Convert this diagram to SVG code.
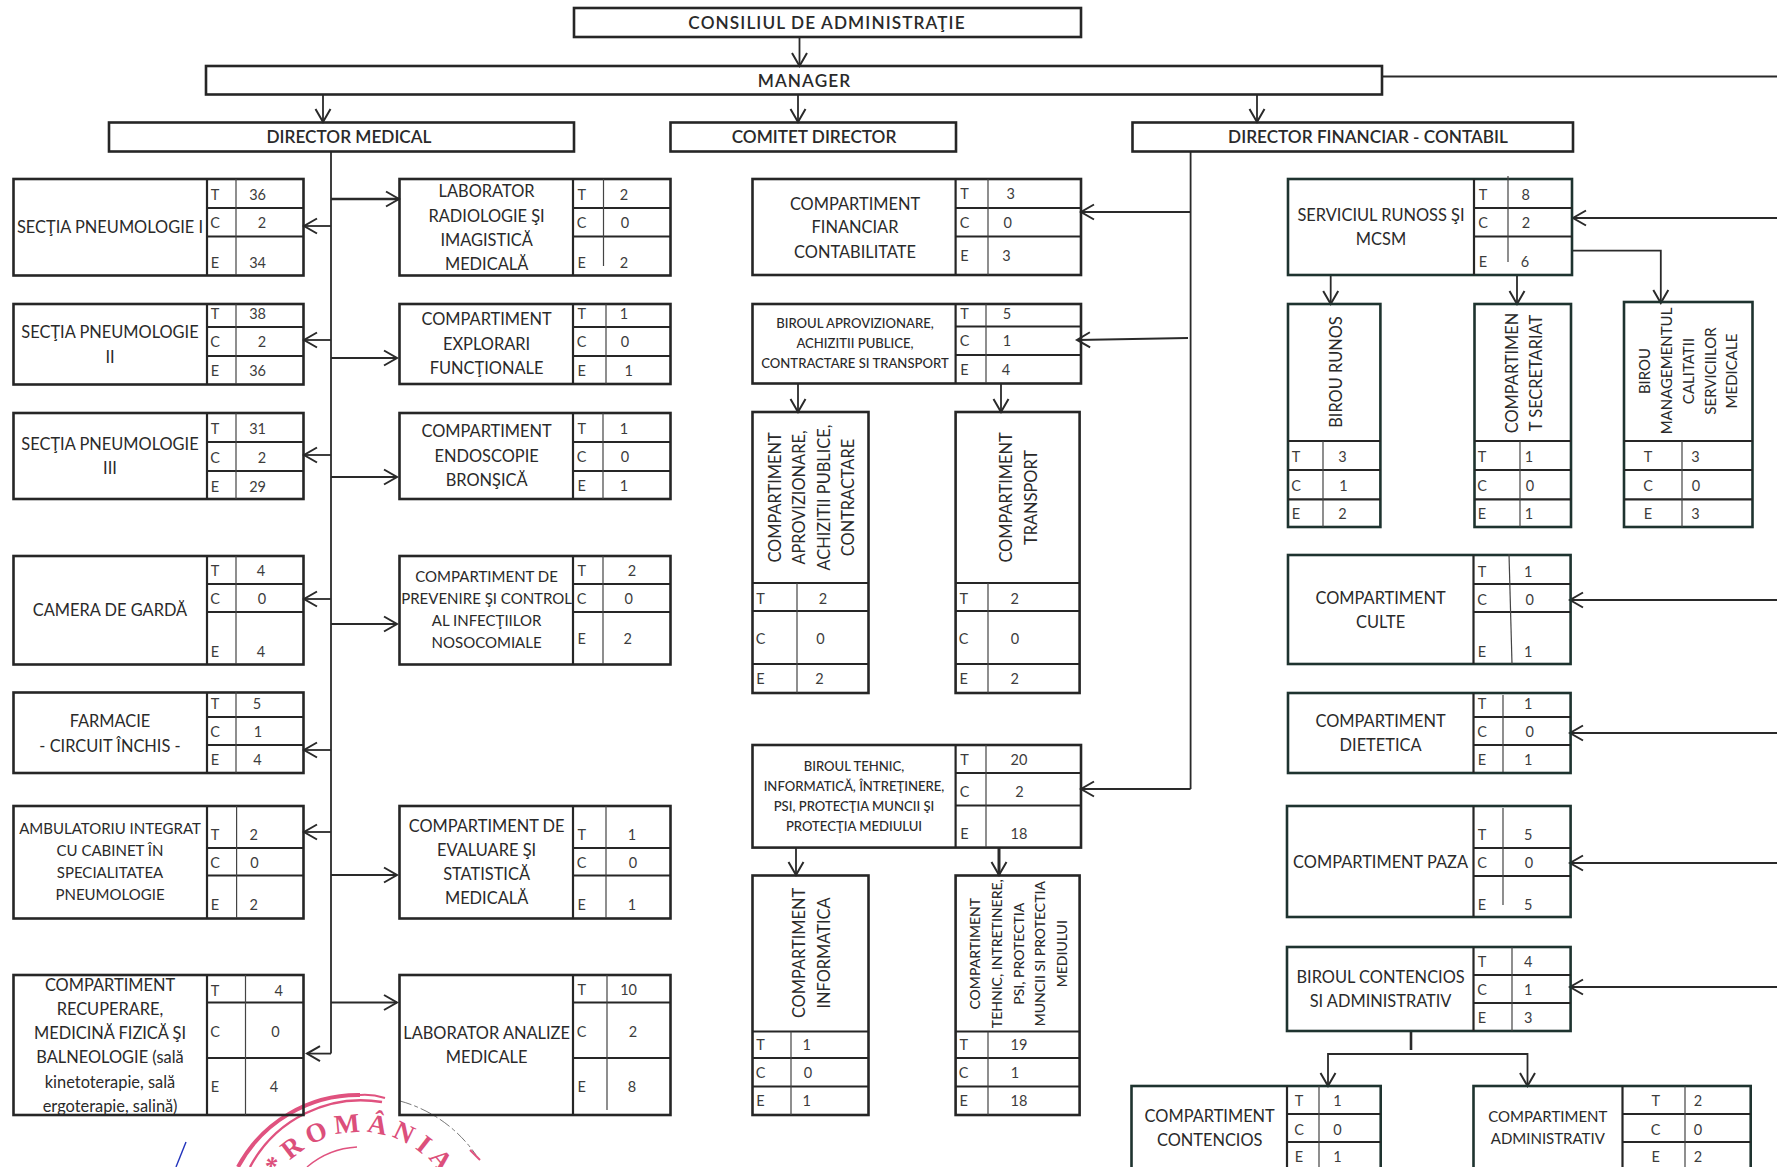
<svg xmlns="http://www.w3.org/2000/svg" width="1777" height="1167" viewBox="0 0 1777 1167">
<style>
text{font-family:"Lato","Open Sans","Liberation Sans",sans-serif;text-anchor:middle;dominant-baseline:central;fill:#2a2a2a}
.l{font-size:16.4px}
.h{font-size:17.2px;font-weight:600}
.hh{font-size:17.2px;font-weight:600;letter-spacing:1.1px}
.m{font-size:15px}
.n{font-size:13.1px;font-weight:500}
.w{font-size:14px;font-weight:500}
.c{font-size:14.5px;fill:#3c3c3c}
.b{fill:none;stroke:#262626;stroke-width:2.6}
.g{stroke:#1e332f}
.r{fill:none;stroke:#262626;stroke-width:2.2}
.s{fill:none;stroke:#444;stroke-width:1.2}
.k{fill:none;stroke:#2a2a2a;stroke-width:1.8;marker-end:url(#a)}
.p{fill:none;stroke:#2a2a2a;stroke-width:1.8}
.st{fill:none;stroke:#e0527f}
</style>
<defs>
<marker id="a" markerUnits="userSpaceOnUse" markerWidth="18" markerHeight="20" refX="15" refY="9" orient="auto"><path d="M2,1.5L15,9L2,16.5" fill="none" stroke="#2a2a2a" stroke-width="2"/></marker>
<path id="stampArc" d="M261,1231A99,99 0 0 1 459,1231" fill="none"/>
</defs>
<rect width="1777" height="1167" fill="#fff"/>
<g id="stamp">
<path class="st" stroke-width="4" d="M238,1167A136,136 0 0 1 360,1095"/>
<path class="st" stroke-width="2" d="M360,1095Q372,1094 385,1098"/>
<path class="st" stroke-width="2.4" d="M250,1167A126,126 0 0 1 382,1102"/>
<path d="M400,1101A136,136 0 0 1 476,1155" fill="none" stroke="#777" stroke-width="1" stroke-dasharray="12 3 4 3"/>
<path class="st" stroke-width="2" d="M470,1150L480,1160"/>
<path class="st" stroke-width="1.4" d="M307,1167A84,84 0 0 1 357,1147"/>
<text style="font-family:'Liberation Serif',serif;font-weight:700;font-size:27px;letter-spacing:6px;fill:#dc4f7b;text-anchor:start;dominant-baseline:auto"><textPath href="#stampArc" startOffset="58">*ROMÂNIA</textPath></text>
<path d="M186,1142L176,1167" fill="none" stroke="#2233bb" stroke-width="1.4"/>
</g>
<g id="connectors">
<path class="k" d="M799.500,37V66"/>
<path class="k" d="M323,94V122"/>
<path class="k" d="M798,94V122"/>
<path class="k" d="M1257,94V122"/>
<path class="p" d="M1382,76.500H1777"/>
<path class="p" d="M331,151V1053.600"/>
<path class="k" d="M331,226H304"/>
<path class="k" d="M331,340H304"/>
<path class="k" d="M331,455H304"/>
<path class="k" d="M331,599H304"/>
<path class="k" d="M331,750H304"/>
<path class="k" d="M331,832H304"/>
<path class="k" d="M331,1053.600H307"/>
<path class="k" d="M331,199H399" style="stroke-width:2.4"/>
<path class="k" d="M331,358H397"/>
<path class="k" d="M331,477H397"/>
<path class="k" d="M331,624H397"/>
<path class="k" d="M331,875H397"/>
<path class="k" d="M331,1002.500H397"/>
<path class="p" d="M1190.600,151V789"/>
<path class="k" d="M1190.600,212H1081"/>
<path class="k" d="M1188,338L1077,340"/>
<path class="k" d="M1190.600,789H1081"/>
<path class="k" d="M798,384V412"/>
<path class="k" d="M1001,384V412"/>
<path class="k" d="M796,848V875"/>
<path class="k" d="M999,848V875" style="stroke-width:3"/>
<path class="k" d="M1777,218H1573"/>
<path class="k" d="M1572,250.600H1660.800V303"/>
<path class="k" d="M1330.700,275V304"/>
<path class="k" d="M1517,275V304"/>
<path class="k" d="M1777,600H1570"/>
<path class="k" d="M1777,733H1570"/>
<path class="k" d="M1777,863H1570"/>
<path class="k" d="M1777,987H1570"/>
<path d="M1411,1032V1050" fill="none" stroke="#2a2a2a" stroke-width="2.6"/>
<path class="k" d="M1411,1054H1328V1086"/>
<path class="k" d="M1411,1054H1527.500V1086"/>
</g>
<g id="consiliu"><rect class="b" x="574" y="8" width="507" height="29"/><text class="hh" x="827" y="22">CONSILIUL DE ADMINISTRAŢIE</text></g>
<g id="manager"><rect class="b" x="206" y="66" width="1176" height="28.500"/><text class="hh" x="804.500" y="80.500">MANAGER</text></g>
<g id="dir-med"><rect class="b" x="109" y="122.500" width="465" height="29"/><text class="h" x="349" y="136.600">DIRECTOR MEDICAL</text></g>
<g id="comitet"><rect class="b" x="670.500" y="122.500" width="285.500" height="29"/><text class="h" x="814" y="136.600">COMITET DIRECTOR</text></g>
<g id="dir-fin"><rect class="b" x="1132.500" y="122.500" width="440.500" height="29"/><text class="h" x="1368" y="136.600">DIRECTOR FINANCIAR - CONTABIL</text></g>

<g id="pneumo1"><rect class="b" x="13.500" y="179" width="290" height="96.500"/><path class="r" d="M207,179V275.500M207,208H303M207,236.500H303"/><path class="s" d="M236,179V275"/>
<text class="l" x="110" y="226.600">SECŢIA PNEUMOLOGIE I</text><text class="c" x="215" y="194">T</text><text class="c" x="215" y="222.700">C</text><text class="c" x="215" y="262">E</text><text class="c" x="257.600" y="194">36</text><text class="c" x="262" y="222.700">2</text><text class="c" x="257.600" y="262">34</text></g>
<g id="pneumo2"><rect class="b" x="13.500" y="304" width="290" height="80.500"/><path class="r" d="M207,304V384.500M207,327H303M207,356H303"/><path class="s" d="M236,304V384"/>
<text class="l" x="110" y="331.400">SECŢIA PNEUMOLOGIE</text><text class="l" x="110" y="356">II</text><text class="c" x="215" y="313">T</text><text class="c" x="215" y="341">C</text><text class="c" x="215" y="370.500">E</text><text class="c" x="257.600" y="313">38</text><text class="c" x="262" y="341">2</text><text class="c" x="257.600" y="370.500">36</text></g>
<g id="pneumo3"><rect class="b" x="13.500" y="413" width="290" height="86"/><path class="r" d="M207,413V499M207,442H303M207,471H303"/><path class="s" d="M236,413V499"/>
<text class="l" x="110" y="443">SECŢIA PNEUMOLOGIE</text><text class="l" x="110" y="467.700">III</text><text class="c" x="215" y="428.600">T</text><text class="c" x="215" y="457">C</text><text class="c" x="215" y="486">E</text><text class="c" x="257.600" y="428.600">31</text><text class="c" x="262" y="457">2</text><text class="c" x="257.600" y="486">29</text></g>
<g id="garda"><rect class="b" x="13.500" y="556" width="290" height="108.500"/><path class="r" d="M207,556V664.500M207,584H303M207,612H303"/><path class="s" d="M236,556V664"/>
<text class="l" x="110" y="609.500">CAMERA DE GARDĂ</text><text class="c" x="215" y="570">T</text><text class="c" x="215" y="598">C</text><text class="c" x="215" y="651">E</text><text class="c" x="261" y="570">4</text><text class="c" x="262" y="598">0</text><text class="c" x="261" y="651">4</text></g>
<g id="farmacie"><rect class="b" x="13.500" y="692.500" width="290" height="80.500"/><path class="r" d="M207,692.500V773M207,717H303M207,745H303"/><path class="s" d="M236,692V773"/>
<text class="l" x="110" y="720.700">FARMACIE</text><text class="l" x="110" y="745">- CIRCUIT ÎNCHIS -</text><text class="c" x="215" y="703.600">T</text><text class="c" x="215" y="731.500">C</text><text class="c" x="215" y="759.800">E</text><text class="c" x="257" y="703.600">5</text><text class="c" x="258" y="731.500">1</text><text class="c" x="257.500" y="759.800">4</text></g>
<g id="ambulatoriu"><rect class="b" x="13.500" y="806" width="290" height="112.500"/><path class="r" d="M207,806V918.500M207,848H303M207,875.500H303"/><path class="s" d="M236.600,806V918"/>
<text class="m" x="110" y="828">AMBULATORIU INTEGRAT</text><text class="m" x="110" y="850">CU CABINET ÎN</text><text class="m" x="110" y="872">SPECIALITATEA</text><text class="m" x="110" y="894">PNEUMOLOGIE</text><text class="c" x="215" y="834">T</text><text class="c" x="215" y="862">C</text><text class="c" x="215" y="904">E</text><text class="c" x="253.600" y="834">2</text><text class="c" x="254.500" y="862">0</text><text class="c" x="253.600" y="904">2</text></g>
<g id="recuperare"><rect class="b" x="13.500" y="975" width="290" height="140"/><path class="r" d="M207,975V1115M207,1002.500H303M207,1058H303"/><path class="s" d="M245.500,975V1115"/>
<text class="l" x="110" y="984">COMPARTIMENT</text><text class="l" x="110" y="1008">RECUPERARE,</text><text class="l" x="110" y="1032">MEDICINĂ FIZICĂ ŞI</text><text class="l" x="110" y="1056">BALNEOLOGIE (sală</text><text class="l" x="110" y="1081">kinetoterapie, sală</text><text class="l" x="110" y="1105">ergoterapie, salină)</text><text class="c" x="215" y="990">T</text><text class="c" x="215" y="1031">C</text><text class="c" x="215" y="1086">E</text><text class="c" x="278.600" y="990">4</text><text class="c" x="275.400" y="1031">0</text><text class="c" x="274" y="1086">4</text></g>

<g id="radiologie"><rect class="b" x="399.500" y="179" width="271" height="96.500"/><path class="r" d="M573,179V275.500M573,208H670M573,236.500H670"/><path class="s" d="M603.500,179V266"/>
<text class="l" x="486.600" y="190">LABORATOR</text><text class="l" x="486.600" y="215">RADIOLOGIE ŞI</text><text class="l" x="486.600" y="239">IMAGISTICĂ</text><text class="l" x="486.600" y="263">MEDICALĂ</text><text class="c" x="581.700" y="194.400">T</text><text class="c" x="581.700" y="222.700">C</text><text class="c" x="581.700" y="262">E</text><text class="c" x="624" y="194.400">2</text><text class="c" x="625" y="222.700">0</text><text class="c" x="624" y="262">2</text></g>
<g id="explorari"><rect class="b" x="399.500" y="304" width="271" height="80"/><path class="r" d="M573,304V384M573,327H670M573,356H670"/><path class="s" d="M606,304V384"/>
<text class="l" x="486.600" y="318.400">COMPARTIMENT</text><text class="l" x="486.600" y="343">EXPLORARI</text><text class="l" x="486.600" y="367.400">FUNCŢIONALE</text><text class="c" x="581.700" y="313">T</text><text class="c" x="581.700" y="341">C</text><text class="c" x="581.700" y="370.400">E</text><text class="c" x="624" y="313">1</text><text class="c" x="625" y="341">0</text><text class="c" x="628.600" y="370.400">1</text></g>
<g id="endoscopie"><rect class="b" x="399.500" y="413" width="271" height="86"/><path class="r" d="M573,413V499M573,442H670M573,471H670"/><path class="s" d="M603,413V499"/>
<text class="l" x="486.600" y="430.500">COMPARTIMENT</text><text class="l" x="486.600" y="455">ENDOSCOPIE</text><text class="l" x="486.600" y="479">BRONŞICĂ</text><text class="c" x="581.700" y="428">T</text><text class="c" x="581.700" y="456">C</text><text class="c" x="581.700" y="485">E</text><text class="c" x="624" y="428">1</text><text class="c" x="625" y="456">0</text><text class="c" x="624" y="485">1</text></g>
<g id="prevenire"><rect class="b" x="399.500" y="556" width="271" height="108.500"/><path class="r" d="M573,556V664.500M573,584H670M573,612H670"/><path class="s" d="M603,556V664"/>
<text class="m" x="486.600" y="576">COMPARTIMENT DE</text><text class="m" x="486.600" y="598">PREVENIRE ŞI CONTROL</text><text class="m" x="486.600" y="620">AL INFECŢIILOR</text><text class="m" x="486.600" y="641.700">NOSOCOMIALE</text><text class="c" x="581.700" y="570">T</text><text class="c" x="581.700" y="598">C</text><text class="c" x="581.700" y="638.600">E</text><text class="c" x="632" y="570">2</text><text class="c" x="628.600" y="598">0</text><text class="c" x="627.700" y="638.600">2</text></g>
<g id="evaluare"><rect class="b" x="399.500" y="806" width="271" height="112.500"/><path class="r" d="M573,806V918.500M573,848H670M573,875.500H670"/><path class="s" d="M606,806V918"/>
<text class="l" x="486.600" y="825">COMPARTIMENT DE</text><text class="l" x="486.600" y="849">EVALUARE ŞI</text><text class="l" x="486.600" y="873">STATISTICĂ</text><text class="l" x="486.600" y="897.600">MEDICALĂ</text><text class="c" x="581.700" y="834">T</text><text class="c" x="581.700" y="862">C</text><text class="c" x="581.700" y="904">E</text><text class="c" x="632" y="834">1</text><text class="c" x="633" y="862">0</text><text class="c" x="632" y="904">1</text></g>
<g id="analize"><rect class="b" x="399.500" y="975" width="271" height="140"/><path class="r" d="M573,975V1115M573,1002.500H670M573,1058H670"/><path class="s" d="M607,975V1110"/>
<text class="l" x="486.600" y="1032">LABORATOR ANALIZE</text><text class="l" x="486.600" y="1056">MEDICALE</text><text class="c" x="581.700" y="989">T</text><text class="c" x="581.700" y="1031">C</text><text class="c" x="581.700" y="1086">E</text><text class="c" x="628.600" y="989">10</text><text class="c" x="633" y="1031">2</text><text class="c" x="632" y="1086">8</text></g>

<g id="financiar"><rect class="b" x="752.500" y="179" width="328.500" height="96"/><path class="r" d="M955.600,179V275M955.600,208H1081M955.600,236.500H1081"/><path class="s" d="M988,179V275"/>
<text class="l" x="855" y="203">COMPARTIMENT</text><text class="l" x="855" y="226.600">FINANCIAR</text><text class="l" x="855" y="251">CONTABILITATE</text><text class="c" x="964.500" y="193.600">T</text><text class="c" x="964.500" y="222">C</text><text class="c" x="964.500" y="255.600">E</text><text class="c" x="1010.800" y="193.600">3</text><text class="c" x="1007.700" y="222">0</text><text class="c" x="1006.500" y="255.600">3</text></g>
<g id="aprovizionare"><rect class="b" x="752.500" y="304" width="328.500" height="79.500"/><path class="r" d="M955.600,304V383.500M955.600,326.500H1081M955.600,355H1081"/><path class="s" d="M986,304V383"/>
<text class="n" x="855" y="323.400">BIROUL APROVIZIONARE,</text><text class="n" x="855" y="343">ACHIZITII PUBLICE,</text><text class="n" x="855" y="363">CONTRACTARE SI TRANSPORT</text><text class="c" x="964.500" y="313">T</text><text class="c" x="964.500" y="340.600">C</text><text class="c" x="964.500" y="369.300">E</text><text class="c" x="1007" y="313">5</text><text class="c" x="1007" y="340.600">1</text><text class="c" x="1006" y="369.300">4</text></g>
<g id="comp-aprov"><rect class="b" x="752.500" y="412" width="116" height="281"/><path class="r" d="M752.500,583H868.500M752.500,611H868.500M752.500,664H868.500"/><path class="s" d="M797,583V693"/>
<text class="l" transform="translate(774.600 497.500) rotate(-90)">COMPARTIMENT</text><text class="l" transform="translate(798.700 497.500) rotate(-90)">APROVIZIONARE,</text><text class="l" transform="translate(823 497.500) rotate(-90)">ACHIZITII PUBLICE,</text><text class="l" transform="translate(847 497.500) rotate(-90)">CONTRACTARE</text><text class="c" x="760.500" y="598.700">T</text><text class="c" x="760.500" y="638.600">C</text><text class="c" x="760.500" y="678.500">E</text><text class="c" x="823" y="598.700">2</text><text class="c" x="820.500" y="638.600">0</text><text class="c" x="819.400" y="678.500">2</text></g>
<g id="comp-transport"><rect class="b" x="955.600" y="412" width="124" height="281"/><path class="r" d="M955.600,583H1079.600M955.600,611H1079.600M955.600,664H1079.600"/><path class="s" d="M988,583V693"/>
<text class="l" transform="translate(1005.400 497.500) rotate(-90)">COMPARTIMENT</text><text class="l" transform="translate(1030 497.500) rotate(-90)">TRANSPORT</text><text class="c" x="963.700" y="598.700">T</text><text class="c" x="963.700" y="638.600">C</text><text class="c" x="963.700" y="678.500">E</text><text class="c" x="1014.600" y="598.700">2</text><text class="c" x="1015" y="638.600">0</text><text class="c" x="1014.600" y="678.500">2</text></g>
<g id="tehnic"><rect class="b" x="752.500" y="745" width="328.500" height="102.600"/><path class="r" d="M955.600,745V847.600M955.600,773H1081M955.600,805.500H1081"/><path class="s" d="M986,745V847"/>
<text class="n" x="854" y="765.600">BIROUL  TEHNIC,</text><text class="n" x="854" y="785.700">INFORMATICĂ, ÎNTREŢINERE,</text><text class="n" x="854" y="805.800">PSI, PROTECŢIA MUNCII ŞI</text><text class="n" x="854" y="826">PROTECŢIA MEDIULUI</text><text class="c" x="964.500" y="759">T</text><text class="c" x="964.500" y="791.500">C</text><text class="c" x="964.500" y="833">E</text><text class="c" x="1019" y="759">20</text><text class="c" x="1019.500" y="791.500">2</text><text class="c" x="1019" y="833">18</text></g>
<g id="informatica"><rect class="b" x="752.500" y="875.500" width="116" height="239.500"/><path class="r" d="M752.500,1031.500H868.500M752.500,1058H868.500M752.500,1086.500H868.500"/><path class="s" d="M791,1031.500V1115"/>
<text class="l" transform="translate(798.700 953) rotate(-90)">COMPARTIMENT</text><text class="l" transform="translate(823 953) rotate(-90)">INFORMATICA</text><text class="c" x="760.500" y="1044">T</text><text class="c" x="760.500" y="1072.600">C</text><text class="c" x="760.500" y="1100.800">E</text><text class="c" x="806.800" y="1044">1</text><text class="c" x="808" y="1072.600">0</text><text class="c" x="806.800" y="1100.800">1</text></g>
<g id="comp-tehnic"><rect class="b" x="955.600" y="875.500" width="124" height="239.500"/><path class="r" d="M955.600,1031.500H1079.600M955.600,1058H1079.600M955.600,1086.500H1079.600"/><path class="s" d="M988,1031.500V1115"/>
<text class="w" transform="translate(974.800 953.700) rotate(-90)">COMPARTIMENT</text><text class="w" transform="translate(996.600 953.700) rotate(-90)">TEHNIC, INTRETINERE,</text><text class="w" transform="translate(1018.400 953.700) rotate(-90)">PSI, PROTECTIA</text><text class="w" transform="translate(1039.800 953.700) rotate(-90)">MUNCII SI PROTECTIA</text><text class="w" transform="translate(1061 953.700) rotate(-90)">MEDIULUI</text><text class="c" x="963.700" y="1044">T</text><text class="c" x="963.700" y="1072.600">C</text><text class="c" x="963.700" y="1100.800">E</text><text class="c" x="1019" y="1044">19</text><text class="c" x="1015" y="1072.600">1</text><text class="c" x="1019" y="1100.800">18</text></g>

<g id="runoss"><rect class="b g" x="1288" y="179" width="284" height="96"/><path class="r g" d="M1474,179V275M1474,208H1572M1474,236.500H1572"/><path class="s" d="M1508,176V262"/>
<text class="l" x="1381" y="214">SERVICIUL RUNOSS ŞI</text><text class="l" x="1381" y="238.400">MCSM</text><text class="c" x="1483" y="194">T</text><text class="c" x="1483" y="222">C</text><text class="c" x="1483" y="261.800">E</text><text class="c" x="1525.600" y="194">8</text><text class="c" x="1526" y="222">2</text><text class="c" x="1525" y="261.800">6</text></g>
<g id="birou-runos"><rect class="b g" x="1288" y="304" width="92.400" height="223"/><path class="r g" d="M1288,441H1380.400M1288,470H1380.400M1288,499.400H1380.400"/><path class="s" d="M1323,441V527"/>
<text class="l" transform="translate(1335 372) rotate(-90)">BIROU RUNOS</text><text class="c" x="1296" y="456">T</text><text class="c" x="1296" y="485">C</text><text class="c" x="1296" y="513.600">E</text><text class="c" x="1342.400" y="456">3</text><text class="c" x="1343.400" y="485">1</text><text class="c" x="1342.400" y="513.600">2</text></g>
<g id="secretariat"><rect class="b g" x="1474.500" y="304" width="96.500" height="223"/><path class="r g" d="M1474.500,441H1571M1474.500,470H1571M1474.500,499.400H1571"/><path class="s" d="M1520,441V527"/>
<text class="l" transform="translate(1511 373) rotate(-90)">COMPARTIMEN</text><text class="l" transform="translate(1535 373) rotate(-90)">T SECRETARIAT</text><text class="c" x="1482" y="456">T</text><text class="c" x="1482" y="485">C</text><text class="c" x="1482" y="513.600">E</text><text class="c" x="1529" y="456">1</text><text class="c" x="1530" y="485">0</text><text class="c" x="1529" y="513.600">1</text></g>
<g id="mcsm"><rect class="b g" x="1624" y="302" width="128.500" height="225"/><path class="r g" d="M1624,441H1752.500M1624,470H1752.500M1624,499.400H1752.500"/><path class="s" d="M1682,441V527"/>
<text class="m" transform="translate(1644 371) rotate(-90)">BIROU</text><text class="m" transform="translate(1666 371) rotate(-90)">MANAGEMENTUL</text><text class="m" transform="translate(1687.600 371) rotate(-90)">CALITATII</text><text class="m" transform="translate(1709.500 371) rotate(-90)">SERVICIILOR</text><text class="m" transform="translate(1731 371) rotate(-90)">MEDICALE</text><text class="c" x="1648" y="456">T</text><text class="c" x="1648" y="485">C</text><text class="c" x="1648" y="513.600">E</text><text class="c" x="1695.400" y="456">3</text><text class="c" x="1696" y="485">0</text><text class="c" x="1695.400" y="513.600">3</text></g>
<g id="culte"><rect class="b g" x="1288" y="555" width="282.600" height="109"/><path class="r g" d="M1473.500,555V664M1473.500,584H1570.600M1473.500,612H1570.600"/><path class="s" d="M1509,554L1512,664"/>
<text class="l" x="1380.600" y="597">COMPARTIMENT</text><text class="l" x="1380.600" y="621.600">CULTE</text><text class="c" x="1482" y="571">T</text><text class="c" x="1482" y="599">C</text><text class="c" x="1482" y="651">E</text><text class="c" x="1528.300" y="571">1</text><text class="c" x="1529.600" y="599">0</text><text class="c" x="1528.300" y="651">1</text></g>
<g id="dietetica"><rect class="b g" x="1288" y="693" width="282.600" height="80"/><path class="r g" d="M1473.500,693V773M1473.500,717H1570.600M1473.500,745H1570.600"/><path class="s" d="M1503,695V772"/>
<text class="l" x="1380.600" y="720">COMPARTIMENT</text><text class="l" x="1380.600" y="744">DIETETICA</text><text class="c" x="1482" y="703.600">T</text><text class="c" x="1482" y="731.600">C</text><text class="c" x="1482" y="759.600">E</text><text class="c" x="1528.300" y="703.600">1</text><text class="c" x="1529.600" y="731.600">0</text><text class="c" x="1528.300" y="759.600">1</text></g>
<g id="paza"><rect class="b g" x="1287" y="806" width="283.600" height="111"/><path class="r g" d="M1473.500,806V917M1473.500,848H1570.600M1473.500,876H1570.600"/><path class="s" d="M1503,808V905"/>
<text class="l" x="1380.600" y="861">COMPARTIMENT PAZA</text><text class="c" x="1482" y="834">T</text><text class="c" x="1482" y="862">C</text><text class="c" x="1482" y="904">E</text><text class="c" x="1528.300" y="834">5</text><text class="c" x="1529" y="862">0</text><text class="c" x="1528.300" y="904">5</text></g>
<g id="contencios-adm"><rect class="b g" x="1287" y="947" width="283.600" height="84"/><path class="r g" d="M1473.500,947V1031M1473.500,975H1570.600M1473.500,1003H1570.600"/><path class="s" d="M1512,947V1031"/>
<text class="l" x="1380.600" y="976">BIROUL CONTENCIOS</text><text class="l" x="1380.600" y="1000">SI ADMINISTRATIV</text><text class="c" x="1482" y="961">T</text><text class="c" x="1482" y="989">C</text><text class="c" x="1482" y="1017.600">E</text><text class="c" x="1528.300" y="961">4</text><text class="c" x="1528.300" y="989">1</text><text class="c" x="1528.300" y="1017.600">3</text></g>
<g id="contencios"><rect class="b g" x="1131.500" y="1086" width="249.200" height="100"/><path class="r g" d="M1287,1086V1167M1287,1114H1380.700M1287,1142H1380.700"/><path class="s" d="M1319,1086V1167"/>
<text class="l" x="1209.700" y="1115">COMPARTIMENT</text><text class="l" x="1209.700" y="1139">CONTENCIOS</text><text class="c" x="1299" y="1100.800">T</text><text class="c" x="1299" y="1129">C</text><text class="c" x="1299" y="1156">E</text><text class="c" x="1337.500" y="1100.800">1</text><text class="c" x="1337.500" y="1129">0</text><text class="c" x="1337.500" y="1156">1</text></g>
<g id="administrativ"><rect class="b g" x="1473.500" y="1086" width="277.200" height="100"/><path class="r g" d="M1622.500,1086V1167M1622.500,1114H1750.700M1622.500,1142H1750.700"/><path class="s" d="M1685,1086V1167"/>
<text class="m" x="1547.800" y="1116">COMPARTIMENT</text><text class="m" x="1547.800" y="1138">ADMINISTRATIV</text><text class="c" x="1655.700" y="1100.800">T</text><text class="c" x="1655.700" y="1129">C</text><text class="c" x="1655.700" y="1156">E</text><text class="c" x="1698" y="1100.800">2</text><text class="c" x="1698" y="1129">0</text><text class="c" x="1698" y="1156">2</text></g>
</svg>
